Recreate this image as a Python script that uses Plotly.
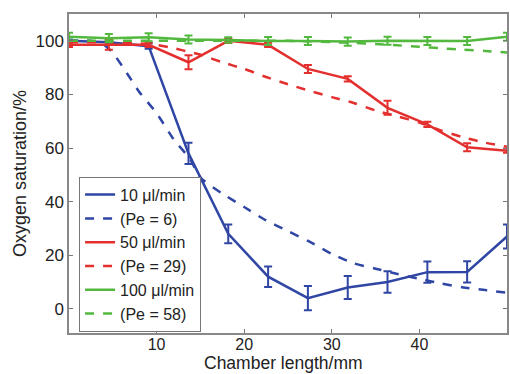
import plotly.graph_objects as go

# Measurement positions (mm)
x_meas = [0, 4.55, 9.09, 13.64, 18.18, 22.73, 27.27, 31.82, 36.36, 40.91, 45.45, 50]

# 10 ul/min measured
y10 = [100, 99.5, 98, 58, 28, 12, 4, 8, 10, 13.7, 13.8, 27]
e10 = [0.5, 0.8, 1.0, 4, 3.5, 3.8, 4.5, 4.3, 4, 4, 4, 4.5]
# 50 ul/min measured
y50 = [98.5, 98.5, 98.5, 92, 100, 98.5, 89.5, 85.8, 75, 68.8, 60.3, 59]
e50 = [0.8, 1.8, 0.8, 2.6, 0.8, 0.8, 1.5, 1.0, 2.6, 1.0, 1.5, 0.8]
# 100 ul/min measured
y100 = [101.5, 101, 101.3, 100.5, 100.3, 99.9, 99.9, 99.7, 100, 99.9, 99.9, 101.5]
e100 = [1.5, 1.5, 1.5, 1.5, 1.0, 1.5, 1.5, 1.5, 1.5, 1.5, 1.5, 1.5]

# Model curves
x_model = [0, 2.5, 4, 5, 6.6, 8, 10, 12, 13.8, 15, 17.5, 20, 22.5, 25, 27.5, 30,
           32.5, 35, 37.5, 40, 42.5, 45, 47.5, 50]
pe6 = [100, 100, 98.5, 95.5, 88, 81, 73, 63, 56, 49, 43, 38, 33, 29, 25, 20.5,
       17, 15, 13, 11.2, 9.5, 8, 7, 6]
pe29 = [99.5, 99.5, 99.5, 99.4, 99.2, 99.0, 98.5, 97.2, 95.8, 94.8, 92, 89.5, 86.5,
        83.8, 81.3, 79, 76.8, 74, 71.8, 69.5, 66.5, 64, 62, 60.5]
pe58 = [100, 100, 100, 100, 100, 100, 100, 100, 100, 100, 100, 100, 100, 100,
        99.8, 99.5, 99.2, 98.8, 98.3, 97.8, 97.2, 96.7, 96.2, 95.6]

x_ticks = [10, 20, 30, 40]
y_ticks = [0, 20, 40, 60, 80, 100]

BLUE = "#3046a4"
RED = "#e3302e"
GREEN = "#52b93e"

fig = go.Figure()

def meas(y, e, color, name):
    return go.Scatter(x=x_meas, y=y, mode="lines", name=name,
                      line=dict(color=color, width=2.5),
                      error_y=dict(type="data", array=e, color=color,
                                   thickness=2, width=4))

def model(y, color, name):
    return go.Scatter(x=x_model, y=y, mode="lines", name=name,
                      line=dict(color=color, width=2.5, dash="dash", shape="spline",
                                smoothing=0.6))

fig.add_trace(meas(y10, e10, BLUE, "10 μl/min"))
fig.add_trace(model(pe6, BLUE, "(Pe = 6)"))
fig.add_trace(meas(y50, e50, RED, "50 μl/min"))
fig.add_trace(model(pe29, RED, "(Pe = 29)"))
fig.add_trace(meas(y100, e100, GREEN, "100 μl/min"))
fig.add_trace(model(pe58, GREEN, "(Pe = 58)"))

fig.update_layout(
    width=510, height=374,
    margin=dict(l=69, r=1, t=14, b=41),
    paper_bgcolor="white", plot_bgcolor="white",
    font=dict(family="Liberation Sans, Arial, sans-serif", size=17, color="#222"),
    showlegend=True,
    legend=dict(x=0.023, y=0.49, xanchor="left", yanchor="top",
                bgcolor="white", bordercolor="#777", borderwidth=1,
                font=dict(size=16, color="#222"), tracegroupgap=0,
                itemwidth=30),
    xaxis=dict(range=[0, 50], tickvals=x_ticks, ticks="inside", ticklen=4,
               tickcolor="#777", showline=True, linecolor="#888", linewidth=1.5,
               mirror="ticks", showgrid=False, zeroline=False,
               tickfont=dict(size=16), ticklabelstandoff=-4),
    yaxis=dict(range=[-9, 110], tickvals=y_ticks, ticks="inside", ticklen=4,
               tickcolor="#777", showline=True, linecolor="#888", linewidth=1.5,
               mirror="ticks", showgrid=False, zeroline=False,
               tickfont=dict(size=17),
               title=dict(text="Oxygen saturation/%", font=dict(size=18), standoff=4)),
    annotations=[dict(text="Chamber length/mm", xref="paper", yref="paper",
                      x=0.49, y=-0.095, xanchor="center", yanchor="middle",
                      showarrow=False, font=dict(size=17.5, color="#222"))],
)

fig.write_html("out.html", post_script="document.body.style.margin='0';",
               config={"displayModeBar": False})
